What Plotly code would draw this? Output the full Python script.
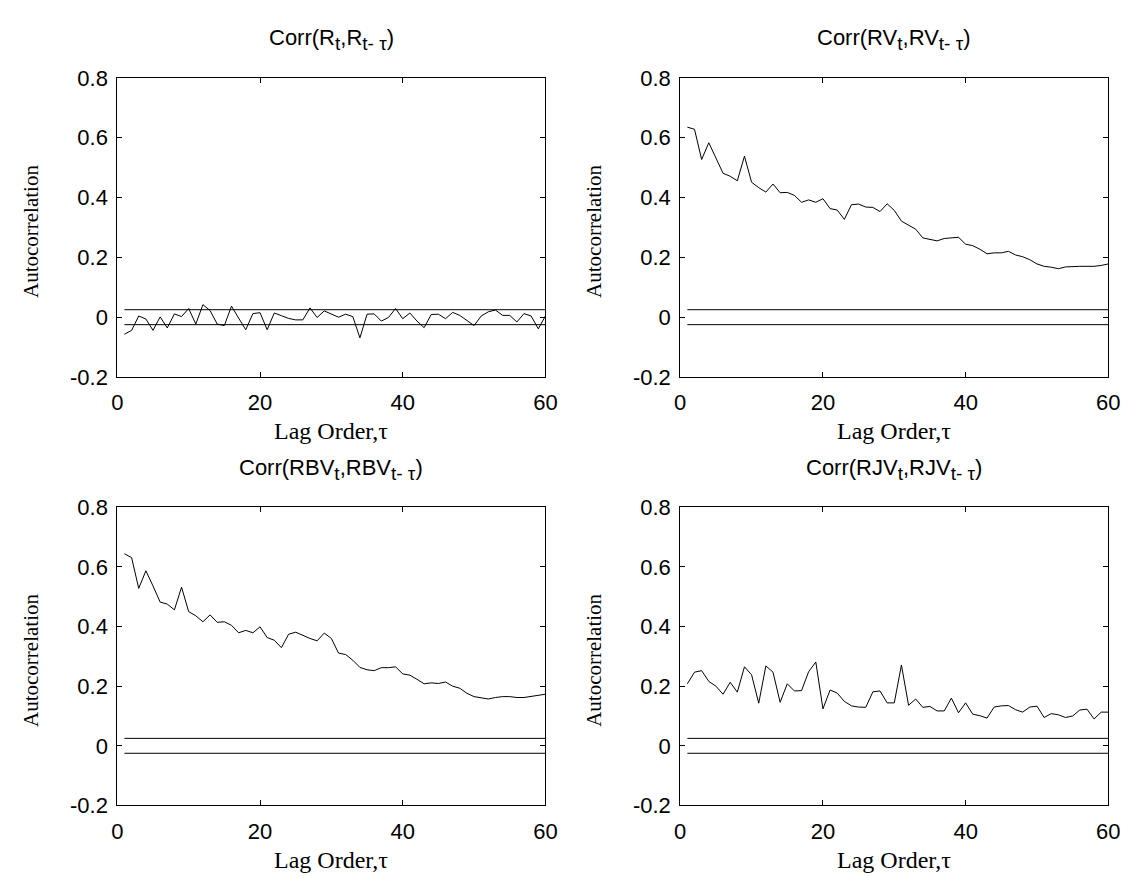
import plotly.graph_objects as go

W, H = 1133, 878

lags = list(range(1, 61))

corr_r = [-0.057, -0.044, 0.004, -0.006, -0.044, 0.001, -0.036, 0.011, 0.002, 0.029,
          -0.023, 0.042, 0.022, -0.023, -0.028, 0.037, -0.003, -0.042, 0.012, 0.015,
          -0.042, 0.014, 0.005, -0.004, -0.009, -0.009, 0.031, -0.001, 0.021, 0.010,
          0.000, 0.010, 0.002, -0.069, 0.010, 0.011, -0.013, -0.001, 0.029, -0.005,
          0.014, -0.013, -0.035, 0.009, 0.010, -0.005, 0.016, 0.006, -0.011, -0.028,
          0.004, 0.018, 0.024, 0.006, 0.006, -0.016, 0.012, 0.004, -0.039, 0.004]

corr_rv = [0.635, 0.628, 0.527, 0.583, 0.532, 0.481, 0.471, 0.456, 0.538, 0.451,
           0.433, 0.418, 0.445, 0.416, 0.417, 0.407, 0.384, 0.392, 0.384, 0.396,
           0.363, 0.358, 0.327, 0.376, 0.378, 0.368, 0.367, 0.353, 0.379, 0.357,
           0.321, 0.307, 0.294, 0.265, 0.259, 0.255, 0.263, 0.266, 0.267, 0.244,
           0.239, 0.227, 0.212, 0.215, 0.215, 0.220, 0.208, 0.202, 0.192, 0.178,
           0.170, 0.167, 0.162, 0.168, 0.170, 0.170, 0.170, 0.170, 0.173, 0.178]

corr_rbv = [0.644, 0.631, 0.528, 0.587, 0.536, 0.482, 0.475, 0.456, 0.532, 0.450,
            0.436, 0.416, 0.439, 0.414, 0.416, 0.404, 0.379, 0.387, 0.379, 0.399,
            0.363, 0.354, 0.329, 0.374, 0.381, 0.370, 0.360, 0.352, 0.378, 0.360,
            0.311, 0.306, 0.287, 0.263, 0.255, 0.252, 0.262, 0.262, 0.265, 0.241,
            0.237, 0.223, 0.208, 0.211, 0.209, 0.214, 0.200, 0.193, 0.176, 0.165,
            0.162, 0.157, 0.162, 0.165, 0.165, 0.162, 0.162, 0.165, 0.168, 0.173]

corr_rjv = [0.208, 0.247, 0.252, 0.216, 0.200, 0.173, 0.213, 0.180, 0.265, 0.238,
            0.143, 0.268, 0.247, 0.146, 0.208, 0.184, 0.185, 0.249, 0.281, 0.124,
            0.187, 0.177, 0.149, 0.134, 0.130, 0.129, 0.181, 0.184, 0.144, 0.144,
            0.271, 0.136, 0.157, 0.129, 0.132, 0.117, 0.117, 0.160, 0.111, 0.144,
            0.106, 0.101, 0.093, 0.130, 0.134, 0.135, 0.121, 0.113, 0.130, 0.133,
            0.095, 0.108, 0.104, 0.095, 0.100, 0.120, 0.123, 0.090, 0.113, 0.113]

band = 0.025  # confidence band +/- value

SUB = '<sub><span style="font-size:19px">{}</span></sub>'
titles = ["Corr(R" + SUB.format("t") + ",R" + SUB.format("t- \u03c4") + ")",
          "Corr(RV" + SUB.format("t") + ",RV" + SUB.format("t- \u03c4") + ")",
          "Corr(RBV" + SUB.format("t") + ",RBV" + SUB.format("t- \u03c4") + ")",
          "Corr(RJV" + SUB.format("t") + ",RJV" + SUB.format("t- \u03c4") + ")"]
series = [corr_r, corr_rv, corr_rbv, corr_rjv]

x_ticks = [0, 20, 40, 60]
y_ticks = [-0.2, 0, 0.2, 0.4, 0.6, 0.8]
y_ticktext = ["-0.2", "0", "0.2", "0.4", "0.6", "0.8"]
x_label = "Lag Order,\u03c4"
y_label = "Autocorrelation"

# panel pixel boxes (left, right, top, bottom)
boxes = [(105, 540, 59.5, 367.5), (677, 1112, 59.5, 367.5),
         (105, 540, 501.5, 808.5), (677, 1112, 501.5, 808.5)]

SANS = "Liberation Sans, Arial, sans-serif"
SERIF = "Liberation Serif, Times New Roman, serif"

fig = go.Figure()
layout = dict(width=W, height=H, margin=dict(l=0, r=0, t=0, b=0),
              paper_bgcolor="white", plot_bgcolor="white", showlegend=False)
annotations = []

for i, (ys, ttl, (l, r, t, b)) in enumerate(zip(series, titles, boxes)):
    k = "" if i == 0 else str(i + 1)
    xa, ya = "x" + k, "y" + k
    fig.add_trace(go.Scatter(x=lags, y=ys, mode="lines", xaxis=xa, yaxis=ya,
                             line=dict(color="black", width=1)))
    for c in (band, -band):
        fig.add_trace(go.Scatter(x=[lags[0], lags[-1]], y=[c, c], mode="lines",
                                 xaxis=xa, yaxis=ya, line=dict(color="black", width=1)))
    common = dict(showline=True, linecolor="black", linewidth=1, mirror="ticks",
                  ticks="inside", ticklen=5, tickcolor="black", showgrid=False,
                  zeroline=False, tickfont=dict(family=SANS, size=22, color="black"))
    layout["xaxis" + k] = dict(domain=[l / W, r / W], range=[0, 60], tickvals=x_ticks,
                               anchor=ya, ticklabelstandoff=6, **common)
    layout["yaxis" + k] = dict(domain=[1 - b / H, 1 - t / H], range=[-0.2, 0.8],
                               tickvals=y_ticks, ticktext=y_ticktext, anchor=xa,
                               ticklabelstandoff=4, **common)
    cx = (l + r) / 2
    annotations.append(dict(text=ttl, x=cx / W, y=1 - (t - 22) / H, xref="paper", yref="paper",
                            xanchor="center", yanchor="bottom", showarrow=False,
                            font=dict(family=SANS, size=22, color="black")))
    annotations.append(dict(text=x_label, x=cx / W, y=1 - (b + 56) / H, xref="paper",
                            yref="paper", xanchor="center", yanchor="middle", showarrow=False,
                            font=dict(family=SERIF, size=24, color="black")))
    annotations.append(dict(text=y_label, x=(l - 87) / W, y=1 - ((t + b) / 2 + 4) / H,
                            xref="paper", yref="paper", xanchor="center", yanchor="middle",
                            textangle=-90, showarrow=False,
                            font=dict(family=SERIF, size=21, color="black")))

layout["annotations"] = annotations
fig.update_layout(**layout)
fig.write_html("out.html")
